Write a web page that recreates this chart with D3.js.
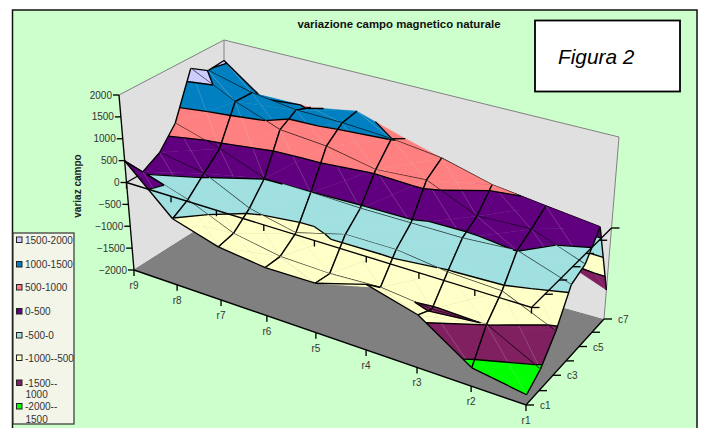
<!DOCTYPE html>
<html><head><meta charset="utf-8">
<script src="https://cdn.jsdelivr.net/npm/d3@7"></script>
<style>html,body{margin:0;padding:0;background:#fff}svg{display:block}text{font-family:"Liberation Sans",Arial,sans-serif}</style>
</head><body><div id="c"></div>
<script>
const rowLabels=["r9","r8","r7","r6","r5","r4","r3","r2","r1"];
const colLabels=["c1","c2","c3","c4","c5","c6","c7"];
const shownCols=["c1","c3","c5","c7"];
const zTicks=[2000,1500,1000,500,0,-500,-1000,-1500,-2000];
const r9=[496,30,244,702,1750,1490,1527];
const r8=[-508,-305,57,396,1250,1232,802];
const r7=[-818,-751,-439,7,877,1100,950];
const r6=[-939,-939,-674,-11,785,1080,1130];
const r5=[-927,-971,-379,-51,562,1010,790];
const r4=[-596,-920,-380,-56,635,873,398];
const r3=[-892,-1040,-530,-62,151,580,-83];
const r2=[-1620,-995,-586,5,194,430,-924];
const r1=[-1790,-1559,-1076,-383,-236,289,-1362];
const surface=[r9,r8,r7,r6,r5,r4,r3,r2,r1];
const bandLows=[1500,1000,500,0,-500,-1000,-1500,-2000];
const bandNames=["1500-2000","1000-1500","500-1000","0-500","-500-0","-1000--500","-1500--1000","-2000--1500"];
const bandColors=["#CCCCFF","#0080C0","#FF8080","#60007F","#A0E0E0","#FFFFC8","#802060","#00FF00"];
const rowSpacing=[0,.11,.222,.339,.464,.592,.722,.86,1];
const colSpacing=[0,.167,.346,.513,.68,.846,1];
const titleText="variazione campo magnetico naturale";
const yTitle="variaz campo";
const noteText="Figura 2";

const W=701,H=428;
const svg=d3.select("#c").append("svg").attr("width",W).attr("height",H);
svg.append("rect").attr("x",12.5).attr("y",10).attr("width",684.5).attr("height",H+5).attr("fill","#CCFFCC").attr("stroke","#111").attr("stroke-width",1.5);

function bilerp(p){
  const [p0,p1,p2,p3]=p;
  return (u,v)=>[0,1].map(k=>{
    const a=p0[k]+(p1[k]-p0[k])*u,b=p3[k]+(p2[k]-p3[k])*u;
    return a+(b-a)*v;
  });
}
const floorH=bilerp([[134,270],[526,405],[604,319],[224,213]]);
const ceilH=bilerp([[119,95],[537,210],[619,137],[224,40]]);
const uScale=d3.scaleOrdinal().domain(rowLabels).range(rowSpacing);
const vScale=d3.scaleOrdinal().domain(colLabels).range(colSpacing);
const zScale=d3.scaleLinear().domain([-2000,2000]).range([0,1]);
function proj(u,v,z){
  const a=floorH(u,v),b=ceilH(u,v),t=zScale(z);
  return [a[0]+(b[0]-a[0])*t,a[1]+(b[1]-a[1])*t];
}
const line=d3.line();
const gBox=svg.append("g");
const zMin=-2000,zMax=2000;
gBox.append("path").attr("d",line([proj(0,0,zMin),proj(1,0,zMin),proj(1,1,zMin),proj(0,1,zMin)])+"Z").attr("fill","#808080");
gBox.append("path").attr("d",line([proj(0,0,zMin),proj(0,1,zMin),proj(0,1,zMax),proj(0,0,zMax)])+"Z").attr("fill","#E0E0E0");
gBox.append("path").attr("d",line([proj(0,1,zMin),proj(1,1,zMin),proj(1,1,zMax),proj(0,1,zMax)])+"Z").attr("fill","#E0E0E0");
gBox.append("path").attr("d",line([proj(0,0,zMax),proj(0,1,zMax),proj(1,1,zMax),proj(1,1,zMin)])).attr("fill","none").attr("stroke","#808080").attr("stroke-width",1);
gBox.append("path").attr("d",line([proj(0,1,zMax),proj(0,1,zMin)])).attr("fill","none").attr("stroke","#808080").attr("stroke-width",1);
gBox.append("path").attr("d",line([proj(0,0,zMin),proj(0,1,zMin)])).attr("fill","none").attr("stroke","#777").attr("stroke-width",1);
gBox.append("path").attr("d",line([proj(0,0,0),proj(0,1,0)])).attr("fill","none").attr("stroke","#000").attr("stroke-width",1.3);

function clipZ(poly,level,keepAbove){
  const out=[];
  poly.forEach((p,i)=>{
    const q=poly[(i+1)%poly.length];
    const pIn=keepAbove?p[2]>=level:p[2]<=level, qIn=keepAbove?q[2]>=level:q[2]<=level;
    if(pIn) out.push(p);
    if(pIn!==qIn){const t=(level-p[2])/(q[2]-p[2]);out.push([p[0]+(q[0]-p[0])*t,p[1]+(q[1]-p[1])*t,level]);}
  });
  return out;
}
function crossings(poly,level){
  const out=[];
  poly.forEach((p,i)=>{
    const q=poly[(i+1)%poly.length];
    if((p[2]<level)!==(q[2]<level)){const t=(level-p[2])/(q[2]-p[2]);out.push([p[0]+(q[0]-p[0])*t,p[1]+(q[1]-p[1])*t,level]);}
  });
  return out;
}
const gSurf=svg.append("g");
const P=p=>proj(p[0],p[1],p[2]);
const nR=rowLabels.length,nC=colLabels.length;
const SW=1.35;
for(let i=0;i<nR-1;i++){
  for(let j=nC-2;j>=0;j--){
    const u0=uScale(rowLabels[i]),u1=uScale(rowLabels[i+1]),v0=vScale(colLabels[j]),v1=vScale(colLabels[j+1]);
    const A=[u0,v0,surface[i][j]],B=[u0,v1,surface[i][j+1]],C=[u1,v1,surface[i+1][j+1]],D=[u1,v0,surface[i+1][j]];
    const useBD=Math.abs(B[2]-D[2])<0.5*Math.abs(A[2]-C[2]);
    const tris=useBD?[[A,B,D],[B,C,D]]:[[A,B,C],[A,C,D]];
    const g=gSurf.append("g");
    tris.forEach(tri=>bandLows.forEach((lo,b)=>{
      let poly=clipZ(tri,lo,true);
      if(poly.length>=3) poly=clipZ(poly,lo+500,false);
      if(poly.length>=3) g.append("path").attr("d",line(poly.map(P))+"Z").attr("fill",bandColors[b]).attr("stroke",bandColors[b]).attr("stroke-width",0.4);
    }));
    g.append("path").attr("d",line([B,D].map(P))).attr("fill","none").attr("stroke","#d0d0d0").attr("stroke-opacity",.4).attr("stroke-width",.6);
    tris.forEach(tri=>bandLows.slice(0,-1).forEach(lo=>{
      const c=crossings(tri,lo);
      if(c.length===2) g.append("path").attr("d",line(c.map(P))).attr("fill","none").attr("stroke","#000").attr("stroke-width",SW);
    }));
    const edges=[[B,A],[A,D],[D,C]];
    if(j===nC-2&&i===0) edges.push([B,C]);
    edges.forEach(e=>g.append("path").attr("d",line(e.map(P))).attr("fill","none").attr("stroke","#000").attr("stroke-width",SW));
  }
}

const gAxis=svg.append("g");
const black=(pts,w)=>gAxis.append("path").attr("d",line(pts)).attr("fill","none").attr("stroke","#000").attr("stroke-width",w||1.35);
black([proj(0,0,zMax),proj(0,0,zMin)]);
black([proj(0,0,zMin),proj(1,0,zMin),proj(1,1,zMin)]);
black([proj(0,0,0),proj(1,0,0),proj(1,1,0)]);
const txt=(x,y,s)=>gAxis.append("text").attr("x",x).attr("y",y).attr("font-size",10).attr("fill","#333").text(s);
zTicks.forEach(z=>{
  const p=proj(0,0,z);
  black([[p[0]-6,p[1]],[p[0],p[1]]]);
  txt(p[0]-7,p[1]+3.5,d3.format("d")(z)).attr("text-anchor","end");
});
rowLabels.forEach(r=>{
  const a=proj(uScale(r),0,zMin),b=proj(uScale(r),0,0);
  black([a,[a[0],a[1]+6]]);
  black([b,[b[0],b[1]+6]]);
  txt(a[0],a[1]+19,r).attr("text-anchor","middle");
});
colLabels.forEach(c=>{
  const a=proj(1,vScale(c),zMin),b=proj(1,vScale(c),0);
  black([a,[a[0]+8,a[1]]]);
  black([b,[b[0]+8,b[1]]]);
  if(shownCols.includes(c)) txt(a[0]+14,a[1]+4,c);
});

svg.append("text").attr("x",399).attr("y",28).attr("text-anchor","middle").attr("font-size",11.4).attr("font-weight","bold").attr("fill","#111").text(titleText);
svg.append("text").attr("transform","translate(81,186) rotate(-90)").attr("text-anchor","middle").attr("font-size",10).attr("font-weight","bold").attr("fill","#222").text(yTitle);

const note=svg.append("g");
note.append("rect").attr("x",535).attr("y",20.5).attr("width",145).attr("height",71).attr("fill","#fff").attr("stroke","#000").attr("stroke-width",1.8);
note.append("text").attr("x",558).attr("y",64).attr("font-size",20.8).attr("font-style","italic").attr("fill","#000").text(noteText);

const leg=svg.append("g");
leg.append("rect").attr("x",13).attr("y",233).attr("width",61).attr("height",191).attr("fill","#F3F5E8").attr("stroke","#333").attr("stroke-width",1.2);
const legendRows=[[240,11],[264.5,11],[287.5,11],[311.5,11],[335.5,11],[358,11],[383,11],[406.5,12.5]];
bandNames.forEach((n,i)=>{
  const y=legendRows[i][0];
  leg.append("rect").attr("x",16.5).attr("y",y-3).attr("width",5.5).attr("height",5.5).attr("fill",bandColors[i]).attr("stroke","#222").attr("stroke-width",1);
  const m=n.match(/^(-\d+--)(\d+)$/);
  const wrap=i>=6&&m;
  const t=leg.append("text").attr("x",25).attr("y",y+3.5).attr("font-size",10).attr("fill","#333");
  if(wrap){t.text(m[1]);leg.append("text").attr("x",25.5).attr("y",y+3.5+legendRows[i][1]).attr("font-size",10).attr("fill","#333").text(m[2]);}
  else t.text(n);
});
</script></body></html>
